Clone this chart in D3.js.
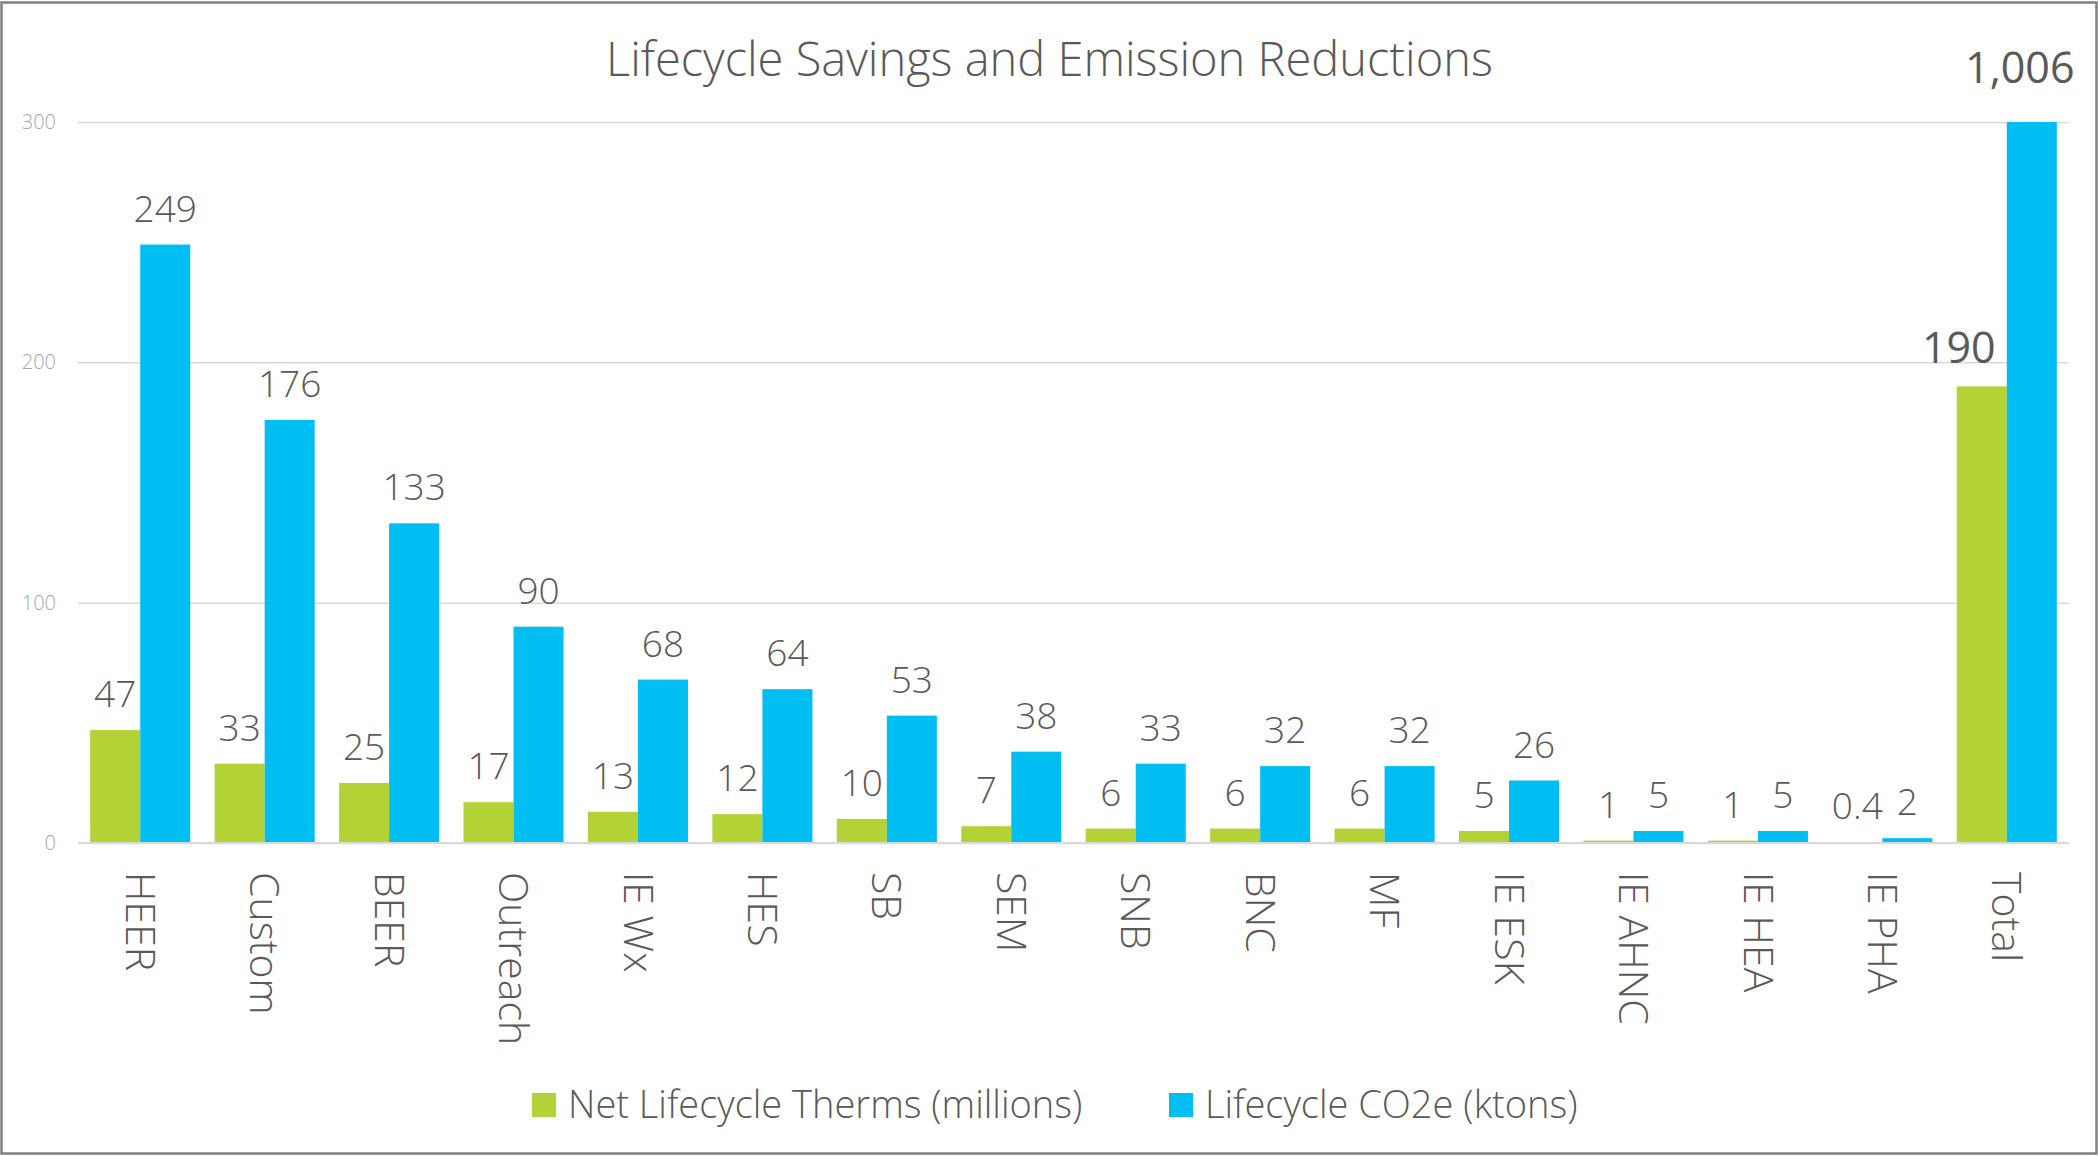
<!DOCTYPE html>
<html lang="en">
<head>
<meta charset="UTF-8">
<title>Lifecycle Savings and Emission Reductions</title>
<script src="https://d3js.org/d3.v7.min.js"></script>
<style>
  body { margin: 0; background: #fff; }
  text { font-family: "Open Sans", "Noto Sans", sans-serif; fill: #595959; }
</style>
</head>
<body>
<div id="chart"></div>
<script>
// data
var programs = ["HEER", "Custom", "BEER", "Outreach", "IE Wx", "HES", "SB", "SEM",
                "SNB", "BNC", "MF", "IE ESK", "IE AHNC", "IE HEA", "IE PHA", "Total"];
var therms = [47, 33, 25, 17, 13, 12, 10, 7, 6, 6, 6, 5, 1, 1, 0.4, 190];
var co2e = [249, 176, 133, 90, 68, 64, 53, 38, 33, 32, 32, 26, 5, 5, 2, 1006];
var seriesNames = ["Net Lifecycle Therms (millions)", "Lifecycle CO2e (ktons)"];
var seriesKeys = ["therms", "co2e"];
var colors = ["#B3D236", "#00BDF2"];
var yTicks = [0, 100, 200, 300];

var W = 2099, H = 1156;
var margin = {top: 122, right: 30, bottom: 313, left: 78};
var width = W - margin.left - margin.right,
    height = H - margin.top - margin.bottom;

var rows = programs.map(function(p, i) { return {name: p, therms: therms[i], co2e: co2e[i]}; });

var svg = d3.select("#chart").append("svg")
    .attr("width", W)
    .attr("height", H);

// outer border
svg.append("rect")
    .attr("x", 1.5).attr("y", 2.5)
    .attr("width", W - 4).attr("height", H - 5)
    .attr("fill", "none")
    .attr("stroke", "#7f7f7f")
    .attr("stroke-width", 2.5);

svg.append("text")
    .attr("x", W / 2)
    .attr("y", 76)
    .attr("text-anchor", "middle")
    .style("font-size", "47px")
    .style("font-weight", 300)
    .text("Lifecycle Savings and Emission Reductions");

var g = svg.append("g")
    .attr("transform", "translate(" + margin.left + "," + margin.top + ")");

var x0 = d3.scaleBand()
    .domain(programs)
    .range([0, width])
    .paddingInner(0.196)
    .paddingOuter(0.098);

var x1 = d3.scaleBand()
    .domain(seriesKeys)
    .range([0, x0.bandwidth()]);

var y = d3.scaleLinear()
    .domain([0, 300])
    .range([height, 0]);

// gridlines + y labels
var yAxis = g.append("g")
    .call(d3.axisLeft(y).tickValues(yTicks).tickSize(-width).tickPadding(22));
yAxis.select(".domain").remove();
yAxis.selectAll(".tick line")
    .attr("stroke", "#d9d9d9")
    .attr("stroke-width", 1.5);
yAxis.selectAll(".tick text")
    .style("font-size", "20px")
    .style("font-weight", 300)
    .style("fill", "#a6a6a6")
    .style("font-family", "'Open Sans', sans-serif");

// bars
var groups = g.selectAll(".grp")
    .data(rows)
    .enter().append("g")
    .attr("class", "grp")
    .attr("transform", function(d) { return "translate(" + x0(d.name) + ",0)"; });

groups.selectAll("rect")
    .data(function(d) { return seriesKeys.map(function(k) { return {key: k, value: d[k], name: d.name}; }); })
    .enter().append("rect")
    .attr("x", function(d) { return x1(d.key); })
    .attr("width", x1.bandwidth())
    .attr("y", function(d) { return y(Math.min(d.value, 300)); })
    .attr("height", function(d) { return height - y(Math.min(d.value, 300)); })
    .attr("fill", function(d, i) { return colors[i]; });

// value labels
var fmt = d3.format(",");
groups.selectAll(".lbl")
    .data(function(d) { return seriesKeys.map(function(k) { return {key: k, value: d[k], name: d.name}; }); })
    .enter().append("text")
    .attr("class", "lbl")
    .attr("text-anchor", "middle")
    .attr("x", function(d) { return x1(d.key) + x1.bandwidth() / 2; })
    .attr("dx", function(d) {
        if (d.name !== "Total") return 0;
        return d.key === "therms" ? -23 : -12;
    })
    .attr("y", function(d) { return y(Math.min(d.value, 300)) - (d.value > 300 ? 39 : 23); })
    .style("font-size", function(d) { return d.name === "Total" ? "43px" : "37px"; })
    .style("font-weight", function(d) { return d.name === "Total" ? 400 : 300; })
    .text(function(d) { return fmt(d.value); });

// baseline
g.append("line")
    .attr("x1", 0).attr("x2", width)
    .attr("y1", height).attr("y2", height)
    .attr("stroke", "#d9d9d9")
    .attr("stroke-width", 2);

// x labels, rotated
g.append("g")
    .selectAll("text")
    .data(programs)
    .enter().append("text")
    .attr("transform", function(d) {
        return "translate(" + (x0(d) + x0.bandwidth() / 2) + "," + (height + 29) + ") rotate(90)";
    })
    .attr("dy", "0.35em")
    .style("font-size", "41px")
    .style("font-weight", 300)
    .text(function(d) { return d; });

// legend
var legendX = [532, 1169];
var legend = svg.append("g")
    .selectAll("g")
    .data(seriesNames)
    .enter().append("g")
    .attr("transform", function(d, i) { return "translate(" + legendX[i] + ",1093)"; });
legend.append("rect")
    .attr("width", 24).attr("height", 24)
    .attr("fill", function(d, i) { return colors[i]; });
legend.append("text")
    .attr("x", 36).attr("y", 12)
    .attr("dy", "0.35em")
    .style("font-size", "38px")
    .style("font-weight", 300)
    .text(function(d) { return d; });
</script>
</body>
</html>
